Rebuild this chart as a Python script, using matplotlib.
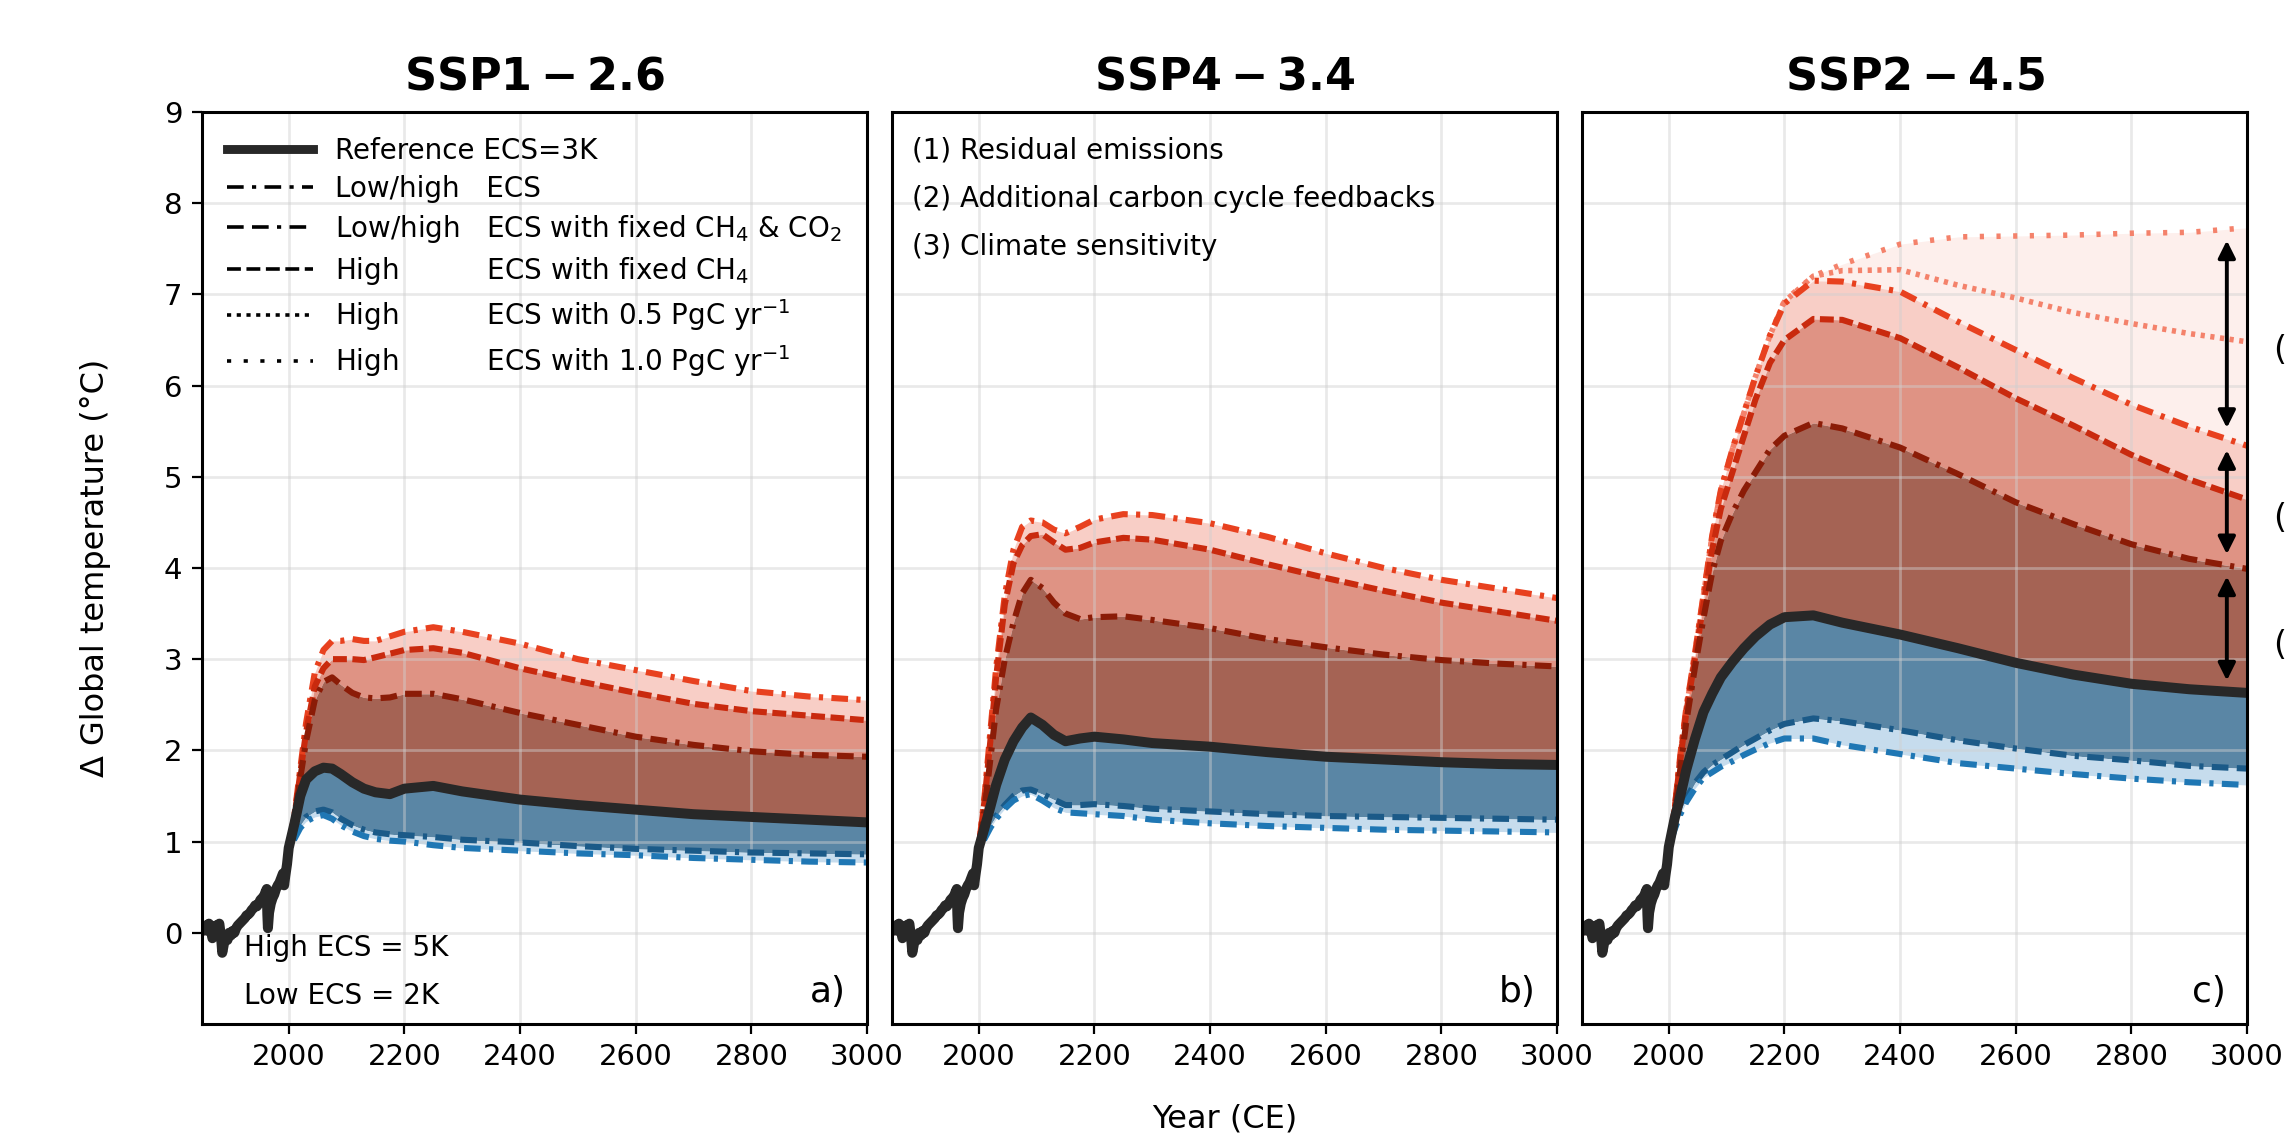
import matplotlib.pyplot as plt
import numpy as np
from matplotlib.lines import Line2D

plt.rcParams['font.family'] = 'DejaVu Sans'
plt.rcParams['lines.scale_dashes'] = False

# ---- data ----
hist_years = [1850, 1853, 1856, 1859, 1862, 1865, 1868, 1871, 1874, 1877, 1880, 1883, 1885,
              1888, 1891, 1894, 1897, 1900, 1903, 1906, 1909, 1912, 1915, 1918, 1921, 1924,
              1927, 1930, 1933, 1936, 1939, 1942, 1945, 1948, 1951, 1954, 1957, 1960, 1962,
              1963, 1964, 1966, 1969, 1972, 1975, 1978, 1981, 1984, 1987, 1990, 1991, 1992,
              1994, 1997]
hist_temp = [-0.02, 0.06, 0.08, 0.03, 0.1, 0.05, -0.06, 0.02, 0.08, 0.05, 0.1, -0.05, -0.22,
             -0.12, -0.05, -0.08, 0.0, -0.03, 0.02, 0.0, 0.05, 0.08, 0.1, 0.12, 0.14, 0.16,
             0.19, 0.2, 0.22, 0.25, 0.27, 0.3, 0.29, 0.32, 0.36, 0.38, 0.4, 0.45, 0.48,
             0.2, 0.05, 0.22, 0.32, 0.38, 0.42, 0.48, 0.52, 0.55, 0.6, 0.65, 0.58, 0.52,
             0.62, 0.75]

fut_years = [2000, 2010, 2020, 2030, 2045, 2060, 2075, 2090, 2110, 2130, 2150, 2175, 2200,
             2250, 2300, 2400, 2500, 2600, 2700, 2800, 2900, 3000]

# SSP1-2.6
a_ref = [0.93, 1.2, 1.5, 1.68, 1.77, 1.81, 1.80, 1.74, 1.65, 1.58, 1.54, 1.52, 1.58,
         1.61, 1.55, 1.46, 1.40, 1.35, 1.30, 1.27, 1.24, 1.21]
a_hi = [0.93, 1.3, 1.8, 2.3, 2.85, 3.1, 3.2, 3.2, 3.22, 3.2, 3.2, 3.25, 3.3,
        3.35, 3.3, 3.17, 3.0, 2.88, 2.76, 2.65, 2.59, 2.55]
a_hi_ch4 = [0.93, 1.28, 1.75, 2.2, 2.7, 2.9, 3.0, 3.0, 3.0, 2.99, 3.02, 3.06, 3.1,
            3.12, 3.07, 2.9, 2.76, 2.63, 2.51, 2.43, 2.38, 2.33]
a_hi_ch4co2 = [0.93, 1.25, 1.7, 2.1, 2.55, 2.75, 2.8, 2.72, 2.63, 2.58, 2.57, 2.58, 2.62,
               2.62, 2.56, 2.41, 2.28, 2.15, 2.06, 1.99, 1.95, 1.93]
a_lo_ch4co2 = [0.93, 1.05, 1.18, 1.27, 1.33, 1.35, 1.32, 1.25, 1.18, 1.13, 1.1, 1.08, 1.07,
               1.05, 1.02, 0.99, 0.95, 0.92, 0.9, 0.88, 0.87, 0.86]
a_lo = [0.93, 1.03, 1.15, 1.22, 1.27, 1.29, 1.25, 1.18, 1.11, 1.06, 1.03, 1.01, 1.0,
        0.96, 0.93, 0.9, 0.87, 0.85, 0.82, 0.8, 0.78, 0.77]

# SSP4-3.4
b_ref = [0.93, 1.15, 1.38, 1.62, 1.9, 2.1, 2.25, 2.36, 2.28, 2.17, 2.1, 2.13, 2.15,
         2.12, 2.08, 2.04, 1.98, 1.93, 1.9, 1.87, 1.85, 1.84]
b_hi = [0.93, 1.5, 2.2, 2.9, 3.7, 4.2, 4.45, 4.52, 4.5, 4.42, 4.38, 4.45, 4.53,
        4.59, 4.58, 4.49, 4.34, 4.16, 4.0, 3.87, 3.77, 3.67]
b_hi_ch4 = [0.93, 1.45, 2.1, 2.8, 3.6, 4.05, 4.25, 4.35, 4.37, 4.28, 4.2, 4.22, 4.28,
            4.33, 4.31, 4.2, 4.04, 3.89, 3.75, 3.62, 3.52, 3.42]
b_hi_ch4co2 = [0.93, 1.35, 1.9, 2.45, 3.0, 3.4, 3.72, 3.87, 3.78, 3.62, 3.5, 3.44, 3.46,
               3.47, 3.43, 3.34, 3.22, 3.13, 3.05, 2.99, 2.95, 2.92]
b_lo_ch4co2 = [0.93, 1.05, 1.18, 1.28, 1.4, 1.5, 1.56, 1.57, 1.52, 1.46, 1.4, 1.4, 1.41,
               1.39, 1.36, 1.33, 1.3, 1.28, 1.27, 1.26, 1.25, 1.24]
b_lo = [0.93, 1.03, 1.15, 1.25, 1.36, 1.45, 1.5, 1.52, 1.45, 1.37, 1.32, 1.31, 1.3,
        1.28, 1.24, 1.2, 1.17, 1.15, 1.13, 1.12, 1.11, 1.1]

# SSP2-4.5
c_ref = [0.94, 1.25, 1.5, 1.78, 2.12, 2.42, 2.62, 2.8, 2.97, 3.12, 3.25, 3.38, 3.46,
         3.48, 3.4, 3.27, 3.12, 2.96, 2.83, 2.73, 2.67, 2.63]
c_hi = [0.94, 1.35, 1.95, 2.45, 3.05, 3.7, 4.35, 4.85, 5.3, 5.7, 6.1, 6.55, 6.9,
        7.15, 7.14, 7.03, 6.7, 6.39, 6.08, 5.79, 5.55, 5.34]
c_hi_ch4 = [0.94, 1.35, 1.9, 2.4, 3.0, 3.6, 4.2, 4.65, 5.05, 5.45, 5.85, 6.25, 6.5,
            6.73, 6.72, 6.52, 6.2, 5.86, 5.56, 5.24, 4.97, 4.75]
c_hi_ch4co2 = [0.94, 1.3, 1.8, 2.3, 2.9, 3.45, 3.95, 4.3, 4.6, 4.85, 5.05, 5.3, 5.45,
               5.59, 5.53, 5.32, 5.03, 4.72, 4.48, 4.26, 4.1, 3.99]
c_hi_05 = [0.94, 1.35, 1.95, 2.45, 3.05, 3.7, 4.35, 4.85, 5.3, 5.7, 6.1, 6.55, 6.92,
           7.2, 7.26, 7.27, 7.1, 6.96, 6.8, 6.68, 6.57, 6.48]
c_hi_10 = [0.94, 1.35, 1.95, 2.45, 3.05, 3.7, 4.35, 4.85, 5.3, 5.7, 6.1, 6.55, 6.93,
           7.2, 7.33, 7.55, 7.63, 7.64, 7.65, 7.67, 7.68, 7.73]
c_lo_ch4co2 = [0.94, 1.15, 1.33, 1.47, 1.64, 1.76, 1.84, 1.9, 1.98, 2.06, 2.13, 2.22, 2.29,
               2.35, 2.32, 2.22, 2.11, 2.02, 1.94, 1.89, 1.83, 1.8]
c_lo = [0.94, 1.13, 1.3, 1.43, 1.58, 1.7, 1.76, 1.82, 1.88, 1.95, 2.01, 2.08, 2.13,
        2.13, 2.06, 1.96, 1.86, 1.8, 1.74, 1.69, 1.65, 1.62]

titles = [r'$\mathbf{SSP1-2.6}$', r'$\mathbf{SSP4-3.4}$', r'$\mathbf{SSP2-4.5}$']
tags = ['a)', 'b)', 'c)']
legend_labels = ['Reference ECS=3K',
                 'Low/high   ECS',
                 'Low/high   ECS with fixed CH$_4$ & CO$_2$',
                 'High          ECS with fixed CH$_4$',
                 'High          ECS with 0.5 PgC yr$^{-1}$',
                 'High          ECS with 1.0 PgC yr$^{-1}$']
driver_labels = ['(1) Residual emissions', '(2) Additional carbon cycle feedbacks',
                 '(3) Climate sensitivity']

# ---- styles ----
REF_C = '#282828'
HI_C, HI_CH4_C, HI_CH4CO2_C, DOT_C = '#e8411f', '#c92a0e', '#8b1c07', '#f4826b'
LO_C, LO_CH4CO2_C = '#1f77b4', '#1b5a88'
FILL_TOP, FILL_1, FILL_2, FILL_3 = '#fdefec', '#f8cec6', '#df9384', '#a56354'
BFILL_DARK, BFILL_LIGHT = '#5a86a5', '#c6dced'

DASHDOT = (0, (6, 3, 1.5, 3))
LONGDASH_DOT = (0, (6, 3, 6, 3, 1.5, 3))
DASHED = (0, (5, 2))
DOT_DENSE = (0, (1.5, 2))
DOT_SPARSE = (0, (1.5, 4.5))


def series(vals):
    return np.array(hist_temp + vals)


def draw_panel(ax, ref, hi, hi_ch4, hi_ch4co2, lo, lo_ch4co2, hi_05=None, hi_10=None):
    x = np.array(hist_years + fut_years)
    ref, hi, hi_ch4, hi_ch4co2 = series(ref), series(hi), series(hi_ch4), series(hi_ch4co2)
    lo, lo_ch4co2 = series(lo), series(lo_ch4co2)
    if hi_10 is not None:
        ax.fill_between(x, hi, series(hi_10), color=FILL_TOP, lw=0)
    ax.fill_between(x, hi_ch4, hi, color=FILL_1, lw=0)
    ax.fill_between(x, hi_ch4co2, hi_ch4, color=FILL_2, lw=0)
    ax.fill_between(x, ref, hi_ch4co2, color=FILL_3, lw=0)
    ax.fill_between(x, lo_ch4co2, ref, color=BFILL_DARK, lw=0)
    ax.fill_between(x, lo, lo_ch4co2, color=BFILL_LIGHT, lw=0)
    if hi_10 is not None:
        ax.plot(x, series(hi_10), color=DOT_C, lw=2, linestyle=DOT_SPARSE)
        ax.plot(x, series(hi_05), color=DOT_C, lw=2, linestyle=DOT_DENSE)
    ax.plot(x, hi, color=HI_C, lw=2.2, linestyle=DASHDOT)
    ax.plot(x, hi_ch4, color=HI_CH4_C, lw=2.2, linestyle=DASHED)
    ax.plot(x, hi_ch4co2, color=HI_CH4CO2_C, lw=2.2, linestyle=LONGDASH_DOT)
    ax.plot(x, lo_ch4co2, color=LO_CH4CO2_C, lw=2.2, linestyle=LONGDASH_DOT)
    ax.plot(x, lo, color=LO_C, lw=2.2, linestyle=DASHDOT)
    ax.plot(x, ref, color=REF_C, lw=3.6, solid_capstyle='butt')


fig, axes = plt.subplots(1, 3, figsize=(11.425, 5.7), dpi=200, sharey=True)
fig.subplots_adjust(left=0.0884, right=0.9834, bottom=0.1018, top=0.9018, wspace=0.0376)

draw_panel(axes[0], a_ref, a_hi, a_hi_ch4, a_hi_ch4co2, a_lo, a_lo_ch4co2)
draw_panel(axes[1], b_ref, b_hi, b_hi_ch4, b_hi_ch4co2, b_lo, b_lo_ch4co2)
draw_panel(axes[2], c_ref, c_hi, c_hi_ch4, c_hi_ch4co2, c_lo, c_lo_ch4co2, c_hi_05, c_hi_10)

for ax, title, tag in zip(axes, titles, tags):
    ax.set_xlim(1850, 3000)
    ax.set_ylim(-1, 9)
    ax.set_xticks(np.arange(2000, 3001, 200))
    ax.set_yticks(np.arange(0, 10, 1))
    ax.set_axisbelow('line')
    ax.grid(color='#d0d0d0', alpha=0.45, lw=1.0)
    ax.tick_params(labelsize=10.5, length=3.5)
    for sp in ax.spines.values():
        sp.set_linewidth(1.1)
    ax.set_title(title, fontsize=16, pad=8)
    ax.text(0.968, 0.035, tag, transform=ax.transAxes, fontsize=13, ha='right', va='center')
for ax in axes[1:]:
    ax.tick_params(axis='y', length=0)

axes[0].set_ylabel('Δ Global temperature (°C)', fontsize=11.5, labelpad=19)
fig.text(0.536, 0.018, 'Year (CE)', ha='center', va='center', fontsize=11.5)

# legend in panel a
handles = [Line2D([], [], color=REF_C, lw=3.2),
           Line2D([], [], color='k', lw=1.3, linestyle=DASHDOT),
           Line2D([], [], color='k', lw=1.3, linestyle=LONGDASH_DOT),
           Line2D([], [], color='k', lw=1.3, linestyle=DASHED),
           Line2D([], [], color='k', lw=1.3, linestyle=DOT_DENSE),
           Line2D([], [], color='k', lw=1.3, linestyle=DOT_SPARSE)]
axes[0].legend(handles, legend_labels, loc='upper left', frameon=False, fontsize=10,
               handlelength=3.1, labelspacing=0.36)
axes[0].text(0.063, 0.083, 'High ECS = 5K', transform=axes[0].transAxes, fontsize=10,
             va='center')
axes[0].text(0.063, 0.031, 'Low ECS = 2K', transform=axes[0].transAxes, fontsize=10,
             va='center')

# driver labels in panel b
for i, lab in enumerate(driver_labels):
    axes[1].text(0.03, 0.958 - 0.053 * i, lab, transform=axes[1].transAxes, fontsize=10,
                 va='center')

# arrows in panel c
xa = 2965
yrs = np.array(hist_years + fut_years)
v_top = np.interp(xa, yrs, series(c_hi_10))
v_hi = np.interp(xa, yrs, series(c_hi))
v_co2 = np.interp(xa, yrs, series(c_hi_ch4co2))
v_ref = np.interp(xa, yrs, series(c_ref))
for k, (y0, y1) in enumerate([(v_top, v_hi), (v_hi, v_co2), (v_co2, v_ref)]):
    axes[2].annotate('', xy=(xa, y1), xytext=(xa, y0),
                     arrowprops=dict(arrowstyle='<|-|>', color='k', lw=1.4,
                                     mutation_scale=13, shrinkA=4, shrinkB=4))
    axes[2].annotate('(%d)' % (k + 1), xy=(3045, (y0 + y1) / 2), xytext=(0, -6),
                     textcoords='offset points', fontsize=12, va='center',
                     annotation_clip=False)

fig.savefig('out.png', dpi=200)
